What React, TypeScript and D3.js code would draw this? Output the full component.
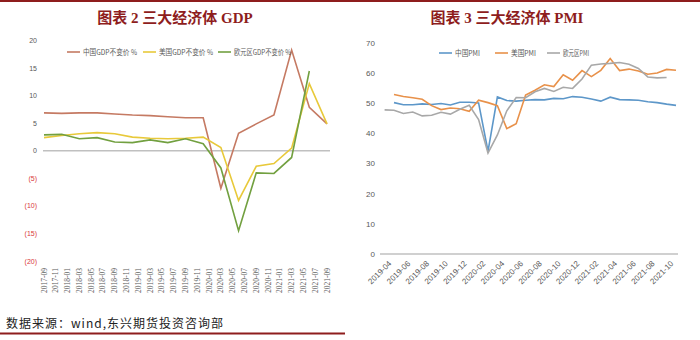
import React from 'react';
import * as d3 from 'd3';

// ---------- GDP chart data ----------
const gdpQuarters = ['2017-09','2017-12','2018-03','2018-06','2018-09','2018-12','2019-03','2019-06','2019-09','2019-12','2020-03','2020-06','2020-09','2020-12','2021-03','2021-06','2021-09'];
const chinaGDP = [6.9, 6.8, 6.9, 6.9, 6.7, 6.5, 6.4, 6.2, 6.0, 6.0, -6.8, 3.2, 4.9, 6.5, 18.3, 7.9, 4.9];
const usGDP = [2.4, 2.8, 3.1, 3.3, 3.1, 2.5, 2.3, 2.2, 2.3, 2.5, 0.6, -9.0, -2.8, -2.3, 0.5, 12.2, 4.9];
const euroGDP: (number | null)[] = [2.9, 3.0, 2.2, 2.4, 1.6, 1.5, 2.0, 1.5, 2.2, 1.3, -3.1, -14.5, -4.0, -4.1, -1.2, 14.5, null];
const gdpXTickLabels = ['2017-09','2017-11','2018-01','2018-03','2018-05','2018-07','2018-09','2018-11','2019-01','2019-03','2019-05','2019-07','2019-09','2019-11','2020-01','2020-03','2020-05','2020-07','2020-09','2020-11','2021-01','2021-03','2021-05','2021-07','2021-09'];
const gdpYTicks = [20, 15, 10, 5, 0, -5, -10, -15, -20];
const gdpYTickLabels = ['20', '15', '10', '5', '0', '(5)', '(10)', '(15)', '(20)'];
const gdpSeriesNames = ['中国GDP不变价 %', '美国GDP不变价 %', '欧元区GDP不变价 %'];

// ---------- PMI chart data ----------
const pmiMonths = ['2019-03','2019-04','2019-05','2019-06','2019-07','2019-08','2019-09','2019-10','2019-11','2019-12','2020-01','2020-02','2020-03','2020-04','2020-05','2020-06','2020-07','2020-08','2020-09','2020-10','2020-11','2020-12','2021-01','2021-02','2021-03','2021-04','2021-05','2021-06','2021-07','2021-08','2021-09','2021-10'];
const chinaPMI: (number | null)[] = [null, 50.1, 49.4, 49.4, 49.7, 49.5, 49.8, 49.3, 50.2, 50.2, 50.0, 34.0, 52.0, 50.8, 50.6, 50.9, 51.1, 51.0, 51.5, 51.4, 52.1, 51.9, 51.3, 50.6, 51.9, 51.1, 51.0, 50.9, 50.4, 50.1, 49.6, 49.2];
const usPMI: (number | null)[] = [null, 52.8, 52.1, 51.7, 51.2, 49.1, 47.8, 48.3, 48.1, 47.2, 50.9, 50.1, 49.1, 41.5, 43.1, 52.6, 54.2, 56.0, 55.4, 59.3, 57.5, 60.7, 58.7, 60.8, 64.7, 60.7, 61.2, 60.6, 59.5, 59.9, 61.1, 60.8];
const euroPMI: (number | null)[] = [47.7, 47.6, 46.5, 47.0, 45.7, 45.9, 46.9, 46.3, 47.9, 49.2, 44.5, 33.4, 39.4, 47.4, 51.8, 51.7, 53.7, 54.8, 53.8, 55.2, 54.8, 57.9, 62.5, 62.9, 63.1, 63.4, 62.8, 61.4, 58.6, 58.3, 58.4, null];
const pmiXTickLabels = ['2019-04','2019-06','2019-08','2019-10','2019-12','2020-02','2020-04','2020-06','2020-08','2020-10','2020-12','2021-02','2021-04','2021-06','2021-08','2021-10'];
const pmiYTicks = [0, 10, 20, 30, 40, 50, 60, 70];
const pmiSeriesNames = ['中国PMI', '美国PMI', '欧元区PMI'];

const monthIndex = (s: string, base: string) => {
  const [y, m] = s.split('-').map(Number);
  const [by, bm] = base.split('-').map(Number);
  return (y - by) * 12 + (m - bm);
};

const GDP_COLORS = ['#c57a63', '#e8c93a', '#72a040'];
const PMI_COLORS = ['#5d97c9', '#e8914a', '#a8a8a8'];
const TITLE_COLOR = '#8e1d1d';
const SANS = '"Liberation Sans", "Noto Sans CJK SC", sans-serif';
const CJK = '"Noto Sans CJK SC", sans-serif';

export default function App() {
  // GDP scales
  const gx = d3.scaleLinear().domain([0, 48]).range([44, 327]);
  const gy = d3.scaleLinear().domain([-20, 20]).range([261, 40.7]);
  const gdpLine = d3.line<[number, number | null]>()
    .defined(d => d[1] !== null)
    .x(d => gx(d[0]))
    .y(d => gy(d[1] as number));
  const gdpData = [chinaGDP, usGDP, euroGDP].map(vals =>
    gdpQuarters.map((q, i) => [monthIndex(q, '2017-09'), vals[i]] as [number, number | null])
  );

  // PMI scales
  const px = d3.scaleLinear().domain([0, 31]).range([384.6, 676]);
  const py = d3.scaleLinear().domain([0, 70]).range([254, 42.5]);
  const pmiLine = d3.line<[number, number | null]>()
    .defined(d => d[1] !== null)
    .x(d => px(d[0]))
    .y(d => py(d[1] as number));
  const pmiData = [chinaPMI, usPMI, euroPMI].map(vals =>
    pmiMonths.map((m, i) => [monthIndex(m, '2019-03'), vals[i]] as [number, number | null])
  );

  const gdpLegendX = [67, 143, 218];
  const gdpLegendW = [54, 54, 57];
  const pmiLegendX = [439, 495, 547];
  const pmiLegendW = [25, 25, 26];

  return (
    <svg width={700} height={340} style={{ position: 'absolute', left: 0, top: 0, background: '#fff' }}>
      <rect x={0} y={0} width={700} height={340} fill="#fff" />
      {/* decorative rules */}
      <line x1={0} x2={700} y1={1} y2={1} stroke={TITLE_COLOR} strokeWidth={2} />
      <line x1={0} x2={345} y1={333.5} y2={333.5} stroke={TITLE_COLOR} strokeWidth={2} />

      {/* titles */}
      <text x={175} y={23} textAnchor="middle" fontFamily='"Liberation Serif", "Noto Sans CJK SC", serif' fontWeight="bold" fontSize={15} fill={TITLE_COLOR}>图表 2  三大经济体 GDP</text>
      <text x={507} y={23} textAnchor="middle" fontFamily='"Liberation Serif", "Noto Sans CJK SC", serif' fontWeight="bold" fontSize={15} fill={TITLE_COLOR}>图表 3  三大经济体 PMI</text>

      {/* ---------- GDP chart ---------- */}
      {gdpYTicks.map((t, i) => (
        <text key={'gy' + t} x={37} y={gy(t) + 2.5} textAnchor="end" fontFamily={SANS} fontSize={7}
          fill={t < 0 ? '#d9393a' : '#595959'}>{gdpYTickLabels[i]}</text>
      ))}
      <line x1={43} x2={330} y1={gy(0)} y2={gy(0)} stroke="#c0c0c0" strokeWidth={1.5} />
      {gdpXTickLabels.map(l => {
        const x = gx(monthIndex(l, '2017-09'));
        return (
          <text key={'gx' + l} transform={`translate(${x + 2.5},268) rotate(-90)`} textAnchor="end"
            fontFamily='"Liberation Serif", serif' fontSize={7.5} fill="#595959">{l}</text>
        );
      })}
      {gdpData.map((d, i) => (
        <path key={'gl' + i} d={gdpLine(d) || ''} fill="none" stroke={GDP_COLORS[i]} strokeWidth={1.6} />
      ))}
      {gdpSeriesNames.map((n, i) => (
        <g key={'glg' + i}>
          <line x1={gdpLegendX[i]} x2={gdpLegendX[i] + 13} y1={52} y2={52} stroke={GDP_COLORS[i]} strokeWidth={1.6} />
          <text x={gdpLegendX[i] + 16} y={54.5} fontFamily={CJK} fontSize={7.5} fill="#595959"
            textLength={gdpLegendW[i]} lengthAdjust="spacingAndGlyphs">{n}</text>
        </g>
      ))}

      {/* ---------- PMI chart ---------- */}
      {pmiYTicks.map(t => (
        <text key={'py' + t} x={375} y={py(t) + 3} textAnchor="end" fontFamily={SANS} fontSize={8} fill="#595959">{t}</text>
      ))}
      <line x1={380} x2={678} y1={py(0)} y2={py(0)} stroke="#c0c0c0" strokeWidth={1.5} />
      {pmiXTickLabels.map(l => {
        const x = px(monthIndex(l, '2019-03'));
        return (
          <text key={'px' + l} transform={`translate(${x - 2},264) rotate(-45)`} textAnchor="end"
            fontFamily={SANS} fontSize={8} fill="#595959">{l}</text>
        );
      })}
      {pmiData.map((d, i) => (
        <path key={'pl' + i} d={pmiLine(d) || ''} fill="none" stroke={PMI_COLORS[i]} strokeWidth={1.6} />
      ))}
      {pmiSeriesNames.map((n, i) => (
        <g key={'plg' + i}>
          <line x1={pmiLegendX[i]} x2={pmiLegendX[i] + 13} y1={53} y2={53} stroke={PMI_COLORS[i]} strokeWidth={1.6} />
          <text x={pmiLegendX[i] + 16} y={55.5} fontFamily={CJK} fontSize={7.5} fill="#595959"
            textLength={pmiLegendW[i]} lengthAdjust="spacingAndGlyphs">{n}</text>
        </g>
      ))}

      {/* source */}
      <text x={6} y={328} fontFamily={CJK} fontSize={12} letterSpacing={1} fill="#222">数据来源：wind,东兴期货投资咨询部</text>
    </svg>
  );
}
